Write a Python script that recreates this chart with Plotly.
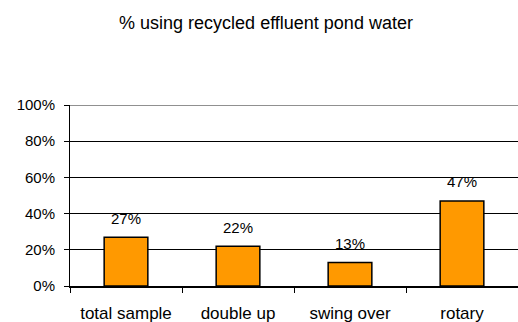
import plotly.graph_objects as go

categories = ["total sample", "double up", "swing over", "rotary"]
values = [0.27, 0.22, 0.13, 0.47]
labels = ["27%", "22%", "13%", "47%"]
title_text = "% using recycled effluent pond water"

FONT = "Liberation Sans, Arial, sans-serif"

fig = go.Figure()
fig.add_trace(go.Bar(
    x=categories, y=values, width=0.39,
    marker=dict(color="#FF9900", line=dict(color="black", width=1.5)),
    hoverinfo="skip",
))

for c, v, t in zip(categories, values, labels):
    fig.add_annotation(x=c, y=v, text=t, showarrow=False, yanchor="middle",
                       yshift=19, font=dict(family=FONT, size=15, color="black"))

fig.add_shape(type="line", xref="paper", yref="y", x0=0, x1=1, y0=1, y1=1,
              line=dict(color="#909090", width=2), layer="above")

fig.update_layout(
    width=518, height=322,
    margin=dict(l=70, r=0, t=105, b=36, autoexpand=False),
    paper_bgcolor="white", plot_bgcolor="white",
    showlegend=False,
    font=dict(family=FONT, size=15, color="black"),
    title=dict(text=title_text, x=266/518, xanchor="center", xref="container",
               y=1 - 23/322, yanchor="middle", yref="container",
               font=dict(family=FONT, size=18, color="black")),
    xaxis=dict(type="category", tickson="boundaries", ticks="outside", ticklen=5,
               tickcolor="black", showline=True, linecolor="black", linewidth=1.5,
               showgrid=False, ticklabelstandoff=11, automargin=False,
               tickfont=dict(family=FONT, size=17, color="black")),
    yaxis=dict(range=[0, 1], dtick=0.2, tickformat=".0%", ticks="outside", ticklen=5,
               tickcolor="black", showline=True, linecolor="black", linewidth=1,
               showgrid=True, gridcolor="black", gridwidth=1, zeroline=False,
               ticklabelstandoff=6, automargin=False,
               tickfont=dict(family=FONT, size=15, color="black")),
)

fig.write_html("out.html", config={"displayModeBar": False},
               post_script="document.body.style.margin='0';")
